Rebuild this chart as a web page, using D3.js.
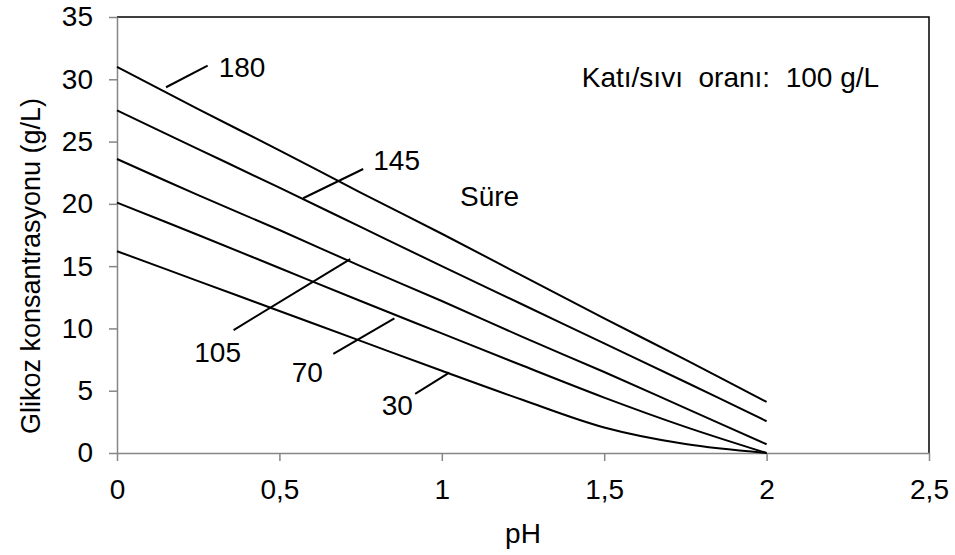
<!DOCTYPE html>
<html>
<head>
<meta charset="utf-8">
<script src="https://cdn.jsdelivr.net/npm/d3@7"></script>
<style>
  body { margin: 0; background: #fff; }
  svg text { font-family: "Liberation Sans", Arial, sans-serif; fill: #000; }
</style>
</head>
<body>
<div id="chart"></div>
<script>
// pH values where the curves were read
const phValues = [0, 0.25, 0.5, 0.75, 1, 1.25, 1.5, 1.75, 2];

// glucose (g/L) per reaction time (min)
const glc180 = [31.0, 27.6, 24.3, 20.9, 17.6, 14.2, 10.8, 7.5, 4.1];
const glc145 = [27.5, 24.4, 21.3, 18.15, 15.0, 11.9, 8.8, 5.7, 2.55];
const glc105 = [23.6, 20.7, 17.9, 15.0, 12.2, 9.3, 6.5, 3.6, 0.7];
const glc70  = [20.1, 17.5, 14.85, 12.2, 9.6, 7.0, 4.45, 2.1, 0];
const glc30  = [16.2, 13.8, 11.4, 9.0, 6.6, 4.25, 2.05, 0.72, 0];

const seriesList = [glc180, glc145, glc105, glc70, glc30];

const xTicks = [0, 0.5, 1, 1.5, 2, 2.5];
const yTicks = [0, 5, 10, 15, 20, 25, 30, 35];

// curve labels: text, label anchor (pH, value), leader line from -> to
const labelText  = ["180", "145", "105", "70", "30"];
const labelPos   = [[0.313, 30.15], [0.789, 22.75], [0.238, 7.33], [0.538, 5.72], [0.815, 3.05]];
const leaderFrom = [[0.151, 29.36], [0.573, 20.45], [0.359, 9.87], [0.666, 7.95], [0.918, 4.74]];
const leaderTo   = [[0.279, 31.09], [0.758, 22.80], [0.718, 15.57], [0.854, 10.81], [1.023, 6.45]];

const width = 955, height = 555;
const margin = {top: 17, right: 26, bottom: 102, left: 117};

const svg = d3.select('#chart').append('svg')
    .attr('width', width)
    .attr('height', height);

const x = d3.scaleLinear()
    .domain([0, 2.5])
    .range([margin.left, width - margin.right]);

const y = d3.scaleLinear()
    .domain([0, 35])
    .range([height - margin.bottom, margin.top]);

const fmt = d => String(d).replace('.', ',');

// plot frame (top and right, black)
svg.append('path')
    .attr('d', `M${x(0)},${y(35)}H${x(2.5)}V${y(0)}`)
    .style('fill', 'none')
    .style('stroke', '#000')
    .style('stroke-width', 1.5);

// axes
const yAxis = svg.append('g')
    .attr('transform', `translate(${x(0)},0)`)
    .call(d3.axisLeft(y).tickValues(yTicks).tickSize(8).tickSizeOuter(0).tickPadding(16).tickFormat(fmt));

const xAxis = svg.append('g')
    .attr('transform', `translate(0,${y(0)})`)
    .call(d3.axisBottom(x).tickValues(xTicks).tickSize(8).tickSizeOuter(0).tickPadding(18).tickFormat(fmt));

[xAxis, yAxis].forEach(a => {
    a.select('.domain').style('stroke', '#868686').style('stroke-width', 1.5);
    a.selectAll('.tick line').style('stroke', '#868686').style('stroke-width', 1.5);
    a.selectAll('.tick text').style('font-size', '28px').style('fill', '#000')
        .style('font-family', '"Liberation Sans", Arial, sans-serif');
});

// curves
const line = d3.line()
    .x((d, i) => x(phValues[i]))
    .y(d => y(d))
    .curve(d3.curveCatmullRom.alpha(0.5));

svg.selectAll('path.series')
    .data(seriesList)
    .enter()
    .append('path')
    .attr('class', 'series')
    .attr('d', d => line(d))
    .style('fill', 'none')
    .style('stroke', '#000')
    .style('stroke-width', 2);

// leader lines + labels
labelText.forEach((t, i) => {
    svg.append('line')
        .attr('x1', x(leaderFrom[i][0]))
        .attr('y1', y(leaderFrom[i][1]))
        .attr('x2', x(leaderTo[i][0]))
        .attr('y2', y(leaderTo[i][1]))
        .style('stroke', '#000')
        .style('stroke-width', 2);

    svg.append('text')
        .attr('x', x(labelPos[i][0]))
        .attr('y', y(labelPos[i][1]))
        .text(t)
        .style('font-size', '28px');
});

svg.append('text')
    .attr('x', x(1.056))
    .attr('y', y(19.83))
    .text('Süre')
    .style('font-size', '28px');

svg.append('text')
    .attr('x', x(1.431))
    .attr('y', y(29.4))
    .attr('xml:space', 'preserve')
    .text('Katı/sıvı  oranı:  100 g/L')
    .style('font-size', '28px');

// axis titles
svg.append('text')
    .attr('transform', 'translate(40,266) rotate(-90)')
    .attr('text-anchor', 'middle')
    .text('Glikoz konsantrasyonu (g/L)')
    .style('font-size', '27px');

svg.append('text')
    .attr('x', (x(0) + x(2.5)) / 2)
    .attr('y', 543)
    .attr('text-anchor', 'middle')
    .text('pH')
    .style('font-size', '28px');
</script>
</body>
</html>
